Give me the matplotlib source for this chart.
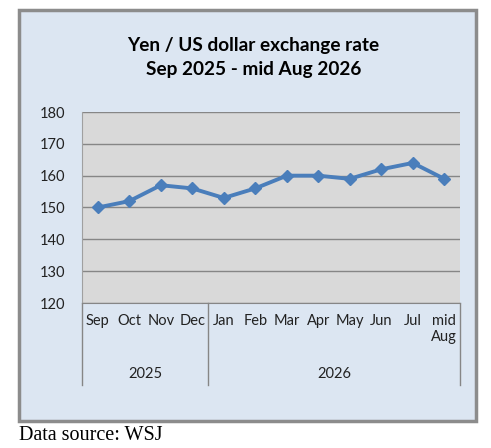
import matplotlib.pyplot as plt
from matplotlib.patches import Rectangle
from matplotlib.transforms import blended_transform_factory

months = ['Sep', 'Oct', 'Nov', 'Dec', 'Jan', 'Feb', 'Mar', 'Apr', 'May', 'Jun', 'Jul', 'mid\nAug']
years = ['2025', '2026']
year_counts = [4, 8]
rates = [150, 152, 157, 156, 153, 156, 160, 160, 159, 162, 164, 159]
yticks = [120, 130, 140, 150, 160, 170, 180]

font = 'Lato'
blue = '#4A7EBB'
grid_col = '#868686'

fig = plt.figure(figsize=(4.91, 4.48), dpi=100, facecolor='white')
W, H = 491, 448

# outer chart frame
fig.patches.append(Rectangle((19 / W, 1 - 421 / H), 457 / W, 411 / H, transform=fig.transFigure,
                             facecolor='#DCE6F2', edgecolor='#8C8C8C', linewidth=2.5, zorder=-5))

ax = fig.add_axes([82 / W, 1 - 303 / H, 378 / W, 191 / H])
ax.set_facecolor('#D9D9D9')
x = list(range(len(months)))
ax.plot(x, rates, color=blue, linewidth=2.8, marker='D', markersize=6.5, zorder=3, clip_on=False)

ax.set_xlim(-0.5, len(months) - 0.5)
ax.set_ylim(120, 180)
ax.set_yticks(yticks)
ax.set_yticklabels([str(v) for v in yticks], fontfamily=font, fontsize=10.5, color='#222222')
ax.tick_params(axis='y', length=0, pad=12)
ax.set_xticks([])
ax.grid(axis='y', color=grid_col, linewidth=1)
ax.set_axisbelow(True)
for s in ['top', 'right']:
    ax.spines[s].set_visible(False)
ax.spines['left'].set_color('#A0A0A0')
ax.spines['bottom'].set_color(grid_col)

tr = blended_transform_factory(ax.transData, ax.transAxes)
for i, m in enumerate(months):
    ax.text(i, -0.055, m, transform=tr, ha='center', va='top', fontfamily=font,
            fontsize=10.5, color='#222222', linespacing=1.2)

# year groups and separators
start = 0
bounds = [-0.5]
for yr, n in zip(years, year_counts):
    mid = start + (n - 1) / 2
    ax.text(mid, -0.37, yr, transform=tr, ha='center', va='center', fontfamily=font,
            fontsize=10.5, color='#222222')
    start += n
    bounds.append(start - 0.5)
for b in bounds:
    ax.plot([b, b], [0, -0.43], transform=tr, color=grid_col, linewidth=1, clip_on=False)

fig.text(0.5 + 8 / W, 1 - 45 / H, 'Yen / US dollar exchange rate', ha='center', va='center',
         fontfamily=font, fontweight='bold', fontsize=13.7)
fig.text(0.5 + 8 / W, 1 - 70 / H, 'Sep 2025 - mid Aug 2026', ha='center', va='center',
         fontfamily=font, fontweight='bold', fontsize=13.7)

fig.text(19 / W, 1 - 435 / H, 'Data source: WSJ', ha='left', va='center',
         fontfamily='Liberation Serif', fontsize=14.5)

fig.savefig('out.png', dpi=100, facecolor='white')
